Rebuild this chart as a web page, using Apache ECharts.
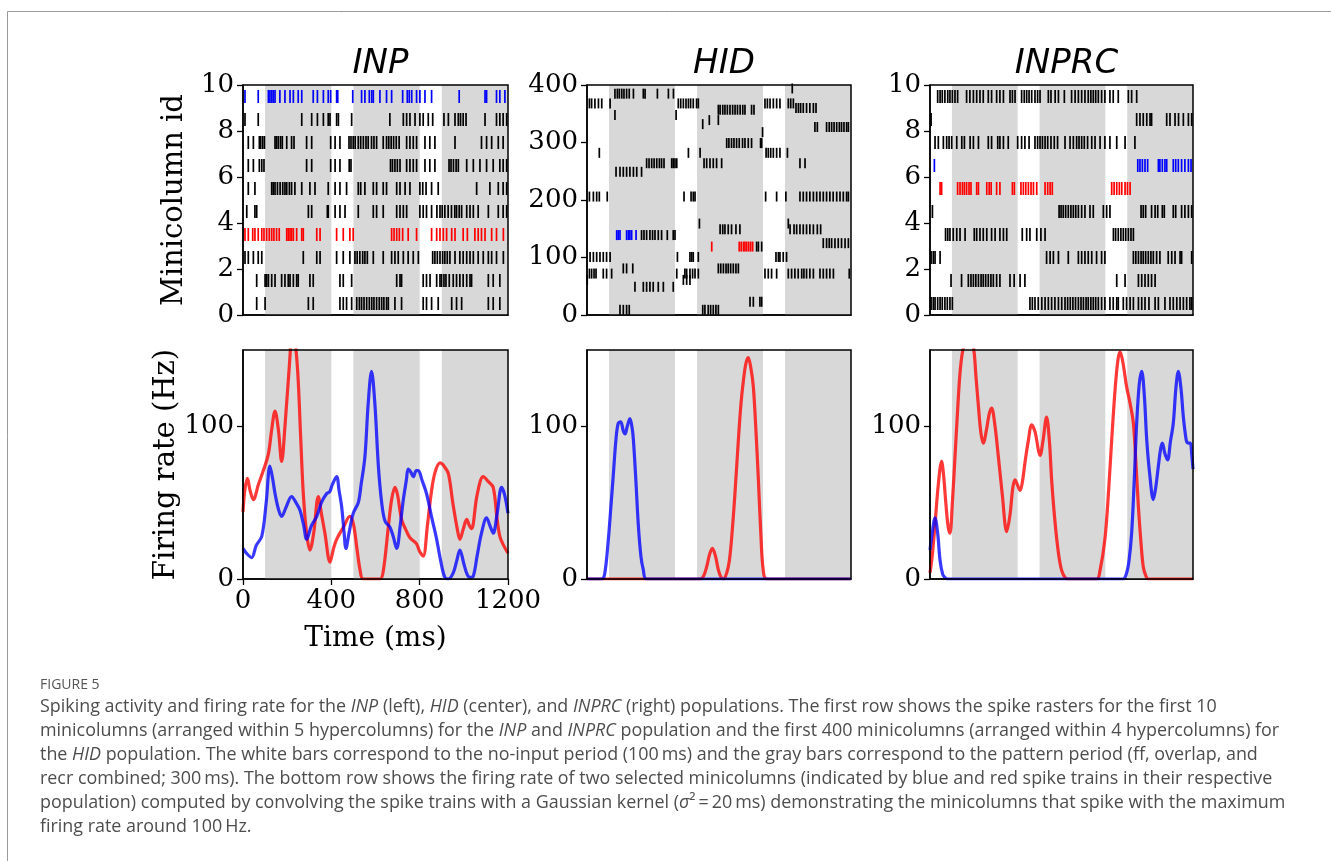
<!DOCTYPE html>
<html><head><meta charset="utf-8">
<script src="https://cdn.jsdelivr.net/npm/echarts@6/dist/echarts.min.js"></script>
<style>html,body{margin:0;padding:0;background:#fff}#c{width:1331px;height:861px}</style>
</head><body><div id="c"></div>
<script>
// ---------- DATA ----------
const panelTitles = ['INP', 'HID', 'INPRC'];
const bands = [[100, 400], [500, 800], [900, 1200]];   // gray pattern periods (ms)
const timeTicks = [0, 400, 800, 1200];

// INP raster: spike times (ms) for minicolumns 0..9
const inpRows = [
  [62,100,296,318,439,454,469,492,515,527,537,548,560,572,583,593,605,617,628,638,650,658,688,718,816,831,854,884,945,967,990,1111,1133,1163],
  [62,100,107,115,130,145,175,190,205,213,228,243,250,303,318,439,454,492,696,711,718,816,831,847,877,892,899,910,919,934,952,967,982,997,1013,1028,1035,1111,1133,1163],
  [9,24,47,69,85,273,334,349,424,454,484,507,517,529,542,552,563,590,635,673,688,703,726,748,771,794,859,869,880,892,904,914,925,937,960,982,997,1013,1028,1043,1065,1088,1111,1126,1148,1179],
  [9,24,44,54,69,85,95,107,119,130,140,152,164,198,205,213,220,228,243,266,273,334,349,424,454,484,499,673,684,696,708,723,748,786,854,877,892,907,922,945,960,997,1016,1050,1065,1080,1096,1126,1148,1179],
  [17,54,62,296,311,382,386,417,439,462,522,590,605,635,696,711,726,741,801,816,831,854,878,892,902,914,929,944,959,967,979,990,1013,1028,1043,1065,1111,1156,1178,1194],
  [24,54,130,137,145,156,168,180,190,198,210,220,235,266,303,326,386,417,439,469,522,533,552,590,605,635,650,696,711,734,756,801,814,829,854,884,1058,1118,1156,1178,1194],
  [24,47,74,85,95,288,311,397,417,439,481,489,668,677,688,699,711,741,756,771,786,824,846,869,933,942,953,965,975,1013,1043,1073,1103,1133,1163,1178,1194],
  [24,47,74,80,89,97,145,152,160,170,178,198,220,231,288,311,397,417,439,480,489,499,508,522,533,545,557,567,582,593,605,635,650,660,671,682,694,707,741,756,771,786,824,846,869,960,1080,1103,1126,1156,1178],
  [9,69,266,311,337,364,386,394,424,432,492,665,726,741,756,779,801,816,839,859,910,930,960,975,985,997,1010,1096,1148,1163,1178,1194],
  [9,69,115,122,130,137,145,167,190,213,228,250,266,318,337,364,386,397,424,429,497,537,552,572,583,590,620,650,673,723,744,753,764,786,801,824,854,979,1096,1103,1148,1163,1186]
];
const inpBlueRow = 9;
const inpRedRow = 3;

// INPRC raster
const inprcRows = [
  [5,15,23,35,46,56,68,79,91,102,456,467,479,494,510,525,540,555,570,586,601,616,628,640,652,664,677,689,700,712,722,734,745,756,768,783,798,821,836,852,859,882,897,913,928,951,966,981,999,1027,1042,1072,1095,1110,1126,1141,1156,1171,1186,1194],
  [96,144,175,187,198,209,221,233,243,254,266,278,289,304,319,365,384,411,433,852,890,951,966,981,996,1011,1027],
  [5,15,23,46,532,548,563,586,631,677,692,707,722,738,760,783,798,928,939,951,963,973,984,996,1008,1019,1034,1049,1087,1103,1118,1141,1148,1194],
  [71,81,91,106,122,137,160,202,213,228,243,259,281,297,319,335,350,421,441,456,487,506,525,837,847,859,871,882,893,905,917,928],
  [11,589,598,608,619,631,643,654,665,677,692,707,730,745,791,806,821,963,973,984,1011,1027,1039,1060,1069,1110,1121,1148,1163,1179,1194],
  [46,53,126,137,148,157,167,178,187,213,221,259,270,279,304,319,376,385,415,426,437,449,461,472,487,525,537,548,558,829,840,852,864,875,890,901,913],
  [20,948,958,969,981,993,1042,1049,1060,1072,1080,1110,1121,1133,1148,1163,1179,1191],
  [23,38,61,76,87,99,122,145,157,183,198,221,266,281,309,319,335,357,400,418,433,452,479,491,502,513,525,537,552,567,582,616,639,654,669,680,692,704,719,738,753,776,798,821,852,890,935],
  [5,943,958,973,989,1004,1011,1080,1095,1118,1134,1156,1179,1194],
  [35,46,56,68,81,91,102,114,126,167,182,198,213,228,243,266,281,304,319,335,365,376,388,418,430,441,452,464,479,491,502,540,552,571,586,613,646,662,677,692,707,722,734,745,756,768,783,798,821,836,859,905,920,943]
];
const inprcBlueRow = 6;
const inprcRedRow = 5;

// HID raster: minicolumn ids and their spike times (ms)
const hidIds = [385, 394, 368, 357, 360, 348, 339, 332, 327, 318, 299, 282, 264, 249, 206, 159, 149, 139, 125, 119, 101, 81, 72, 61, 49, 23, 9];
const hidTimes = [
  [127,138,147,158,168,180,192,211,256,264,320,370,393],
  [933],
  [11,21,36,52,67,105,415,426,438,450,461,471,483,498,506,809,820,832,847,862,877,915,926,938],
  [597,605,617,627,638,650,662,673,684,696,708,718,748,759],
  [950,961,971,983,998,1013,1029,1041],
  [127,405],
  [556,597],
  [526],
  [1036,1047,1089,1101,1112,1123,1135,1147,1157,1168,1180,1188],
  [798],
  [635,645,657,668,680,692,707,718,733,748,789,794],
  [56,461,514,814,824,835,847,862,877,911],
  [271,282,294,305,317,329,339,350,385,392,400,408,532,544,559,574,589,612,968,991],
  [132,150,165,180,195,211,226,248],
  [11,29,44,56,92,441,473,483,491,812,862,904,968,983,998,1013,1029,1044,1059,1074,1089,1104,1119,1135,1150,1165,1180,1188],
  [511,915],
  [605,617,627,642,657,677,695,923,941,953,968,983,998,1013,1029,1047,1062],
  [248,259,271,286,298,309,324,339,365,392,400],
  [1074,1089,1101,1112,1127,1142,1157,1173,1188],
  [771,779,794],
  [14,29,44,59,74,89,105,411,468,476,483,506,859,870,877,892,907],
  [165,180,208,597,608,620,632,642,653,665,677,688],
  [11,21,32,41,74,89,112,408,445,453,468,480,491,506,809,824,839,862,915,930,945,960,976,986,998,1013,1029,1059,1074,1089,1104,1120,1192],
  [1,438,453,468],
  [218,256,271,286,301,324,347,392],
  [741,756,786,794],
  [150,165,180,192,526,536,551,562,574,586,597]
];
const hidBlueId = 139;
const hidBlueTimes = [135,142,150,180,188,195,203,223];
const hidRedId = 119;
const hidRedTimes = [567,692,701,711,718,726,735,744,753];

// Firing rates [time ms, rate Hz]
const inpRedRate = [[0,44],[8,58],[20,66],[32,58],[47,52],[70,62],[92,71],[115,82],[130,98],[145,110],[160,98],[175,77],[190,100],[210,140],[225,165],[240,150],[250,130],[262,90],[273,56],[288,30],[303,19],[320,30],[341,54],[356,42],[371,30],[394,11],[410,20],[424,26],[455,34],[484,41],[500,36],[515,21],[530,6],[545,0],[620,0],[635,5],[658,34],[673,52],[688,60],[700,55],[718,39],[735,33],[756,27],[786,23],[800,18],[816,15],[835,35],[854,58],[870,70],[892,76],[910,74],[930,69],[950,50],[970,33],[982,26],[998,33],[1013,39],[1025,35],[1035,33],[1060,55],[1088,67],[1110,64],[1133,60],[1150,40],[1163,28],[1180,22],[1200,17]];
const inpBlueRate = [[0,20],[15,17],[39,14],[60,22],[85,28],[105,50],[122,74],[135,65],[145,56],[160,46],[175,41],[195,47],[220,54],[240,50],[258,45],[275,35],[288,26],[310,35],[334,41],[355,50],[379,56],[392,57],[405,62],[424,67],[435,58],[447,47],[458,30],[466,20],[480,30],[499,43],[522,50],[535,62],[552,80],[567,115],[582,136],[597,115],[613,74],[628,50],[643,38],[665,34],[680,28],[696,20],[712,35],[726,52],[740,65],[748,72],[760,70],[771,67],[785,71],[794,71],[810,65],[831,56],[855,40],[877,26],[895,12],[914,1],[930,0],[952,4],[968,12],[982,19],[1000,10],[1015,3],[1028,1],[1043,2],[1060,15],[1080,30],[1103,40],[1118,35],[1133,30],[1150,42],[1171,60],[1185,55],[1200,43]];
const hidRedRate = [[0,0],[514,0],[530,2],[544,8],[557,16],[570,20],[584,15],[597,6],[610,1],[620,0],[635,4],[647,12],[657,26],[672,55],[688,91],[700,115],[711,130],[722,141],[733,145],[745,138],[756,126],[768,97],[779,65],[790,30],[801,6],[817,0],[1200,0]];
const hidBlueRate = [[0,0],[65,0],[80,3],[97,26],[110,50],[120,69],[132,92],[142,102],[153,103],[165,97],[173,95],[183,100],[195,105],[205,99],[211,91],[222,65],[233,36],[245,15],[256,6],[271,0],[1200,0]];
const inprcRedRate = [[0,4],[10,15],[23,36],[38,62],[53,77],[62,68],[71,52],[82,35],[91,30],[102,50],[114,80],[125,108],[137,135],[150,150],[165,155],[180,158],[198,152],[210,132],[221,113],[232,96],[243,89],[258,98],[270,108],[281,112],[295,102],[312,80],[330,55],[350,31],[365,42],[378,60],[388,65],[398,62],[411,58],[422,64],[433,76],[448,90],[464,101],[480,96],[495,84],[502,81],[515,90],[532,106],[545,90],[555,65],[570,38],[586,17],[600,6],[616,1],[630,0],[760,0],[775,5],[798,26],[815,58],[829,91],[845,125],[857,143],[867,149],[880,142],[897,126],[913,115],[928,102],[940,75],[951,47],[962,25],[973,8],[985,2],[996,0],[1200,0]];
const inprcBlueRate = [[0,19],[10,30],[23,40],[35,30],[46,12],[58,3],[68,1],[80,0],[880,0],[895,3],[908,12],[920,30],[932,65],[943,102],[955,128],[966,136],[978,120],[989,91],[1003,68],[1019,52],[1030,60],[1042,74],[1052,85],[1060,89],[1072,82],[1084,78],[1097,90],[1110,102],[1122,125],[1133,136],[1145,125],[1156,106],[1165,95],[1171,90],[1180,89],[1188,89],[1194,82],[1200,72]];

const captionHead = 'FIGURE 5';
const captionLines = [
  'Spiking activity and firing rate for the *INP* (left), *HID* (center), and *INPRC* (right) populations. The first row shows the spike rasters for the first 10',
  'minicolumns (arranged within 5 hypercolumns) for the *INP* and *INPRC* population and the first 400 minicolumns (arranged within 4 hypercolumns) for',
  'the *HID* population. The white bars correspond to the no-input period (100\u2009ms) and the gray bars correspond to the pattern period (ff, overlap, and',
  'recr combined; 300\u2009ms). The bottom row shows the firing rate of two selected minicolumns (indicated by blue and red spike trains in their respective',
  'population) computed by convolving the spike trains with a Gaussian kernel (*\u03c3*\u00b2\u2009=\u200920\u2009ms) demonstrating the minicolumns that spike with the maximum',
  'firing rate around 100\u2009Hz.'
];

// ---------- LAYOUT / STYLE ----------
const BLUE = '#0000ff', RED = '#ff0000';
const LBLUE = 'rgba(0,0,255,0.78)', LRED = 'rgba(255,0,0,0.78)';
const BAND = '#d8d8d8';
const SERIF = 'DejaVu Serif';
const colLeft = [243, 587, 930];
const colW = [265, 264, 263];
const rowTop = [85, 350];
const rowH = [230, 229];

const grids = [], xAxes = [], yAxes = [], series = [];
for (let r = 0; r < 2; r++) for (let c = 0; c < 3; c++) {
  grids.push({left: colLeft[c], top: rowTop[r], width: colW[c], height: rowH[r],
    show: true, borderColor: '#000', borderWidth: 1.5, backgroundColor: 'transparent', z: 5});
}
function xAx(i, showLabels) {
  return {gridIndex: i, type: 'value', min: 0, max: 1200, interval: 400,
    axisLine: {show: true, onZero: false, lineStyle: {color: '#000', width: 1.5}},
    axisTick: {show: showLabels, length: 6, lineStyle: {color: '#000', width: 1.3}},
    axisLabel: {show: showLabels, margin: 9, fontFamily: SERIF, fontSize: 26, color: '#000',
      formatter: v => String(v)},
    splitLine: {show: false},
    name: showLabels ? 'Time (ms)' : '', nameLocation: 'middle', nameGap: 46,
    nameTextStyle: {fontFamily: SERIF, fontSize: 28, color: '#000'}};
}
function yAx(i, max, interval, name, custom) {
  const o = {gridIndex: i, type: 'value', min: 0, max: max, interval: interval,
    axisLine: {show: true, lineStyle: {color: '#000', width: 1.5}},
    axisTick: {show: true, length: 6, lineStyle: {color: '#000', width: 1.3}},
    axisLabel: {margin: 9, fontFamily: SERIF, fontSize: 26, color: '#000', formatter: v => String(v)},
    splitLine: {show: false},
    name: name || '', nameLocation: 'middle', nameGap: 54, nameRotate: 90,
    nameTextStyle: {fontFamily: SERIF, fontSize: 29, color: '#000'}};
  if (custom) { o.axisTick.customValues = custom; o.axisLabel.customValues = custom; }
  return o;
}
xAxes.push(xAx(0, false), xAx(1, false), xAx(2, false), xAx(3, true), xAx(4, false), xAx(5, false));
yAxes.push(yAx(0, 10, 2, 'Minicolumn id'), yAx(1, 400, 100), yAx(2, 10, 2),
           yAx(3, 150, 50, 'Firing rate (Hz)', [0, 100]), yAx(4, 150, 50, '', [0, 100]), yAx(5, 150, 50, '', [0, 100]));

function bandSeries(i) {
  return {type: 'custom', xAxisIndex: i, yAxisIndex: i, z: 1, silent: true,
    data: bands, encode: {x: [0, 1]},
    renderItem: function (params, api) {
      const cs = params.coordSys;
      const a = api.coord([api.value(0), 0]);
      const b = api.coord([api.value(1), 0]);
      return {type: 'rect', shape: {x: a[0], y: cs.y, width: b[0] - a[0], height: cs.height},
        style: {fill: BAND}};
    }};
}
function spikes(i, data, color, h) {
  return {type: 'scatter', xAxisIndex: i, yAxisIndex: i, z: 3, silent: true,
    symbol: 'rect', symbolSize: [1.7, h], itemStyle: {color: color, opacity: 1},
    data: data, animation: false};
}
function rowData(rows, skip) {
  const d = [];
  rows.forEach((times, r) => { if (skip.indexOf(r) < 0) times.forEach(t => d.push([t, r + 0.5])); });
  return d;
}
function rateLine(i, data, color) {
  return {type: 'line', xAxisIndex: i, yAxisIndex: i, z: 3, data: data, smooth: 0.35,
    showSymbol: false, symbol: 'none', clip: true, lineStyle: {color: color, width: 3.2}, silent: true};
}

for (let i = 0; i < 6; i++) series.push(bandSeries(i));
// INP raster
series.push(spikes(0, rowData(inpRows, [inpBlueRow, inpRedRow]), '#000', 13));
series.push(spikes(0, inpRows[inpBlueRow].map(t => [t, inpBlueRow + 0.5]), BLUE, 13));
series.push(spikes(0, inpRows[inpRedRow].map(t => [t, inpRedRow + 0.5]), RED, 13));
// HID raster
const hidData = [];
hidIds.forEach((id, k) => hidTimes[k].forEach(t => hidData.push([t, id])));
series.push(spikes(1, hidData, '#000', 10));
series.push(spikes(1, hidBlueTimes.map(t => [t, hidBlueId]), BLUE, 10));
series.push(spikes(1, hidRedTimes.map(t => [t, hidRedId]), RED, 10));
// INPRC raster
series.push(spikes(2, rowData(inprcRows, [inprcBlueRow, inprcRedRow]), '#000', 13));
series.push(spikes(2, inprcRows[inprcBlueRow].map(t => [t, inprcBlueRow + 0.5]), BLUE, 13));
series.push(spikes(2, inprcRows[inprcRedRow].map(t => [t, inprcRedRow + 0.5]), RED, 13));
// Rates
series.push(rateLine(3, inpRedRate, LRED), rateLine(3, inpBlueRate, LBLUE));
series.push(rateLine(4, hidRedRate, LRED), rateLine(4, hidBlueRate, LBLUE));
series.push(rateLine(5, inprcRedRate, LRED), rateLine(5, inprcBlueRate, LBLUE));

const titles = panelTitles.map((t, c) => ({text: t, left: colLeft[c] + colW[c] / 2, top: 42, textAlign: 'center',
  textStyle: {fontFamily: 'DejaVu Sans', fontStyle: 'italic', fontWeight: 'normal', fontSize: 34, color: '#000'}}));

function richLine(s) {
  const parts = s.split('*');
  return parts.map((p, k) => p ? '{' + (k % 2 ? 'i' : 'n') + '|' + p + '}' : '').join('');
}
const capStyle = {fontFamily: 'Open Sans', fontSize: 17.9, fill: '#4d4d4d'};
const graphics = [
  {type: 'rect', left: 5, top: 9, shape: {x: 0, y: 0, width: 1340, height: 870}, style: {fill: 'none', stroke: '#9a9a9a', lineWidth: 1}, silent: true},
  {type: 'text', left: 40, top: 678, style: {text: captionHead, fontFamily: 'Open Sans', fontSize: 14, fill: '#555'}}
];
captionLines.forEach((ln, k) => graphics.push({type: 'text', left: 40, top: 698 + k * 24,
  style: {text: richLine(ln), rich: {n: capStyle, i: Object.assign({}, capStyle, {fontStyle: 'italic'})}}}));

const chart = echarts.init(document.getElementById('c'), null, {renderer: 'canvas'});
chart.setOption({animation: false, backgroundColor: '#fff', title: titles, grid: grids,
  xAxis: xAxes, yAxis: yAxes, series: series, graphic: graphics});
</script></body></html>
